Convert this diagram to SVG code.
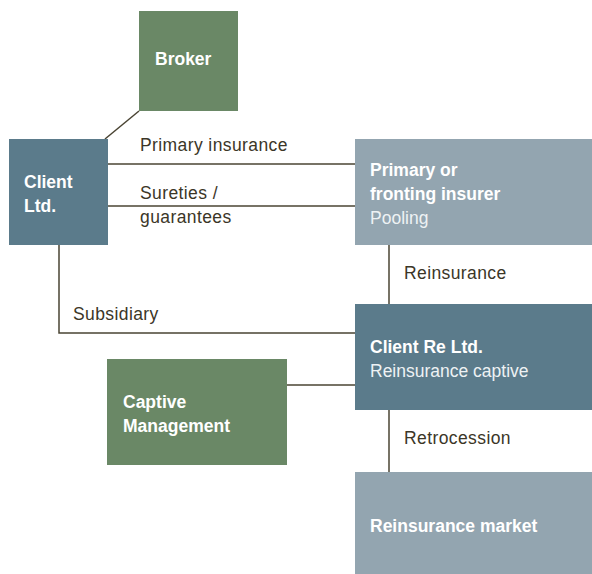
<svg xmlns="http://www.w3.org/2000/svg" width="592" height="574" viewBox="0 0 592 574">
<style>
.t{font-family:"Liberation Sans",Arial,sans-serif;font-size:17.5px}
.w{fill:#ffffff;font-weight:bold}
.wl{fill:#eef2f4}
.lbl{fill:#3b3627;letter-spacing:0.4px}
.ln{stroke:#4a4433;stroke-width:1.5;fill:none}
.green{fill:#6a8866}
.blue{fill:#5b7b8b}
.grey{fill:#93a5b0}
</style>
<rect width="592" height="574" fill="#ffffff"/>
<g id="connectors">
<line class="ln" x1="105" y1="139" x2="139" y2="111"/>
<line class="ln" x1="108" y1="164" x2="355" y2="164"/>
<line class="ln" x1="108" y1="206" x2="355" y2="206"/>
<polyline class="ln" points="59,245 59,333 355,333"/>
<line class="ln" x1="389" y1="245" x2="389" y2="304"/>
<line class="ln" x1="287" y1="385" x2="355" y2="385"/>
<line class="ln" x1="389" y1="410" x2="389" y2="472"/>
<text class="t lbl" x="140" y="151">Primary insurance</text>
<text class="t lbl" x="140" y="199">Sureties /</text>
<text class="t lbl" x="140" y="223">guarantees</text>
<text class="t lbl" x="404" y="279">Reinsurance</text>
<text class="t lbl" x="73" y="320">Subsidiary</text>
<text class="t lbl" x="404" y="444">Retrocession</text>
</g>
<g id="broker">
<rect class="green" x="139" y="11" width="99" height="100"/>
<text class="t w" x="155" y="65">Broker</text>
</g>
<g id="client">
<rect class="blue" x="9" y="139" width="99" height="106"/>
<text class="t w" x="24" y="188">Client</text>
<text class="t w" x="24" y="212">Ltd.</text>
</g>
<g id="primary">
<rect class="grey" x="355" y="139" width="237" height="106"/>
<text class="t w" x="370" y="176">Primary or</text>
<text class="t w" x="370" y="200">fronting insurer</text>
<text class="t wl" x="370" y="224">Pooling</text>
</g>
<g id="clientre">
<rect class="blue" x="355" y="304" width="237" height="106"/>
<text class="t w" x="370" y="353">Client Re Ltd.</text>
<text class="t wl" x="370" y="377">Reinsurance captive</text>
</g>
<g id="captive">
<rect class="green" x="107" y="359" width="180" height="106"/>
<text class="t w" x="123" y="408">Captive</text>
<text class="t w" x="123" y="432">Management</text>
</g>
<g id="market">
<rect class="grey" x="355" y="472" width="237" height="102"/>
<text class="t w" x="370" y="532">Reinsurance market</text>
</g>
</svg>
